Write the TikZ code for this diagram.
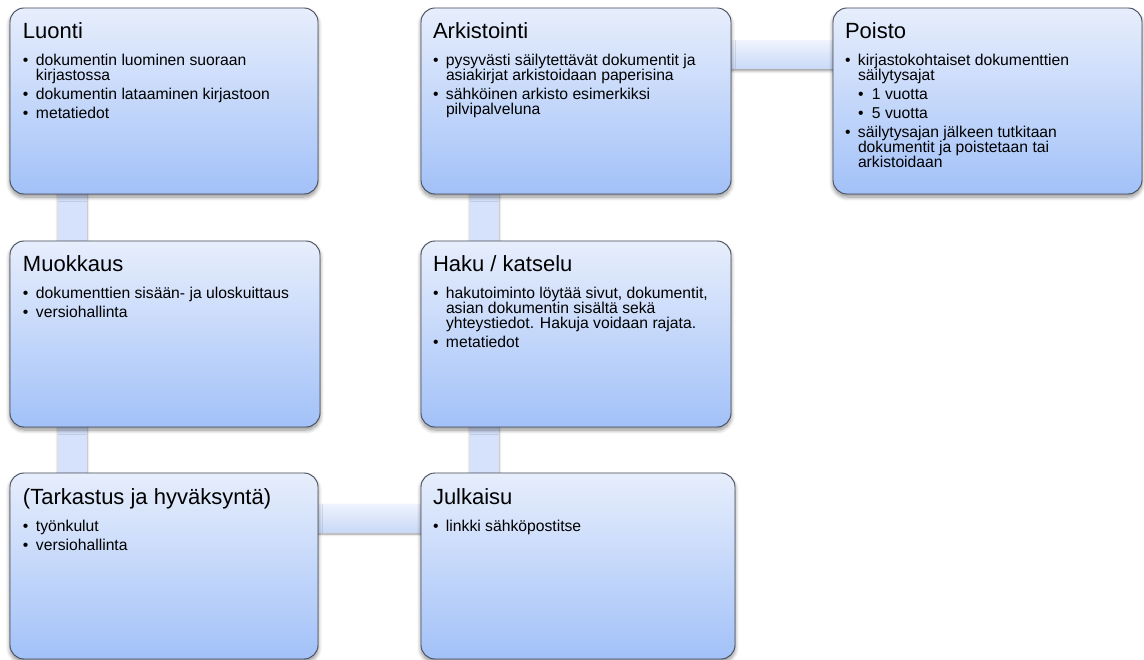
\documentclass[tikz,border=0pt]{standalone}
\usepackage{fontspec}
\setmainfont{Liberation Sans}
\usetikzlibrary{shadows.blur,backgrounds}

\definecolor{boxtop}{HTML}{E7EEFC}
\definecolor{boxbot}{HTML}{A2C1F8}
\definecolor{boxedge}{HTML}{454B5A}
\definecolor{bartop}{HTML}{EEF3FD}
\definecolor{barbot}{HTML}{C9D9F7}
\definecolor{barfill}{HTML}{D6E2FB}

% title and bullet lists inside a stage box
\newcommand\stagetitle[1]{{\fontsize{22}{24}\selectfont #1\par}\vspace{8pt}}
\newcommand\itm[1]{\par\vspace{4pt}\hangindent=13pt\hangafter=1\noindent\makebox[13pt][l]{\textbullet}#1}
\newcommand\subitm[1]{\par\vspace{4pt}\hangindent=27pt\hangafter=1\noindent\hspace*{13pt}\makebox[14pt][l]{\textbullet}#1}
\newcommand\stagetext[1]{\parbox[t]{300pt}{\raggedright\lineskiplimit=-100pt\fontsize{15.7}{15}\selectfont #1}}

\tikzset{
  stagebox/.style={draw=boxedge, line width=0.9pt, rounded corners=14pt,
    top color=boxtop, bottom color=boxbot, anchor=north west,
    minimum width=#1, minimum height=186pt, inner sep=0pt, outer sep=0pt,
    blur shadow={shadow xshift=0pt, shadow yshift=-3pt, shadow blur radius=4pt,
      shadow opacity=45, shadow blur steps=8}},
  stagetxt/.style={anchor=base west, inner sep=0pt, outer sep=0pt, text=black},
  hbar/.style={top color=bartop, bottom color=barbot,
    blur shadow={shadow xshift=0pt, shadow yshift=-2pt, shadow blur radius=2.5pt,
      shadow opacity=40, shadow blur steps=6}},
  vbar/.style={fill=barfill,
    blur shadow={shadow xshift=0pt, shadow yshift=0pt, shadow blur radius=2.5pt,
      shadow opacity=35, shadow blur steps=6}},
}

\begin{document}
\begin{tikzpicture}[x=1pt, y=-1pt]
\useasboundingbox (0,0) rectangle (1144,660);

% stage boxes
\node[stagebox=308pt] (luonti)  at (10,8)   {};
\node[stagebox=310pt] (arkisto) at (421,8)  {};
\node[stagebox=309pt] (poisto)  at (833,8)  {};
\node[stagebox=310pt] (muokkaus) at (10,241) {};
\node[stagebox=310pt] (haku)    at (421,241) {};
\node[stagebox=308pt] (tarkastus) at (10,473) {};
\node[stagebox=314pt] (julkaisu)  at (421,473) {};

% connecting bars, behind the boxes
\begin{scope}[on background layer]
  \path[vbar] ([xshift=48pt,yshift=20pt]luonti.south west) rectangle ([xshift=77pt,yshift=-20pt]muokkaus.north west);
  \path[vbar] ([xshift=48pt,yshift=20pt]muokkaus.south west) rectangle ([xshift=77pt,yshift=-20pt]tarkastus.north west);
  \path[vbar] ([xshift=49pt,yshift=20pt]arkisto.south west) rectangle ([xshift=78pt,yshift=-20pt]haku.north west);
  \path[vbar] ([xshift=49pt,yshift=20pt]haku.south west) rectangle ([xshift=78pt,yshift=-20pt]julkaisu.north west);
  \path[hbar] ([xshift=-20pt,yshift=-33pt]arkisto.north east) rectangle ([xshift=20pt,yshift=-61pt]poisto.north west);
  \path[hbar] ([xshift=-20pt,yshift=-31pt]tarkastus.north east) rectangle ([xshift=20pt,yshift=-59pt]julkaisu.north west);
\end{scope}

% box contents
\node[stagetxt] (luontiT) at ([shift={(13pt,-31pt)}]luonti.north west) {\stagetext{%
  \stagetitle{Luonti}
  \itm{dokumentin luominen suoraan\newline kirjastossa}
  \itm{dokumentin lataaminen kirjastoon}
  \itm{metatiedot}}};

\node[stagetxt] (arkistoT) at ([shift={(12pt,-31pt)}]arkisto.north west) {\stagetext{%
  \stagetitle{Arkistointi}
  \itm{pysyvästi säilytettävät dokumentit ja\newline asiakirjat arkistoidaan paperisina}
  \itm{sähköinen arkisto esimerkiksi\newline pilvipalveluna}}};

\node[stagetxt] (poistoT) at ([shift={(12pt,-31pt)}]poisto.north west) {\stagetext{%
  \stagetitle{Poisto}
  \itm{kirjastokohtaiset dokumenttien\newline säilytysajat}
  \subitm{1 vuotta}
  \subitm{5 vuotta}
  \itm{säilytysajan jälkeen tutkitaan\newline dokumentit ja poistetaan tai\newline arkistoidaan}}};

\node[stagetxt] (muokkausT) at ([shift={(13pt,-31pt)}]muokkaus.north west) {\stagetext{%
  \stagetitle{Muokkaus}
  \itm{dokumenttien sisään- ja uloskuittaus}
  \itm{versiohallinta}}};

\node[stagetxt] (hakuT) at ([shift={(12pt,-31pt)}]haku.north west) {\stagetext{%
  \stagetitle{Haku / katselu}
  \itm{hakutoiminto löytää sivut, dokumentit,\newline asian dokumentin sisältä sekä\newline yhteystiedot. Hakuja voidaan rajata.}
  \itm{metatiedot}}};

\node[stagetxt] (tarkastusT) at ([shift={(13pt,-31pt)}]tarkastus.north west) {\stagetext{%
  \stagetitle{(Tarkastus ja hyväksyntä)}
  \itm{työnkulut}
  \itm{versiohallinta}}};

\node[stagetxt] (julkaisuT) at ([shift={(12pt,-31pt)}]julkaisu.north west) {\stagetext{%
  \stagetitle{Julkaisu}
  \itm{linkki sähköpostitse}}};
\end{tikzpicture}
\end{document}
